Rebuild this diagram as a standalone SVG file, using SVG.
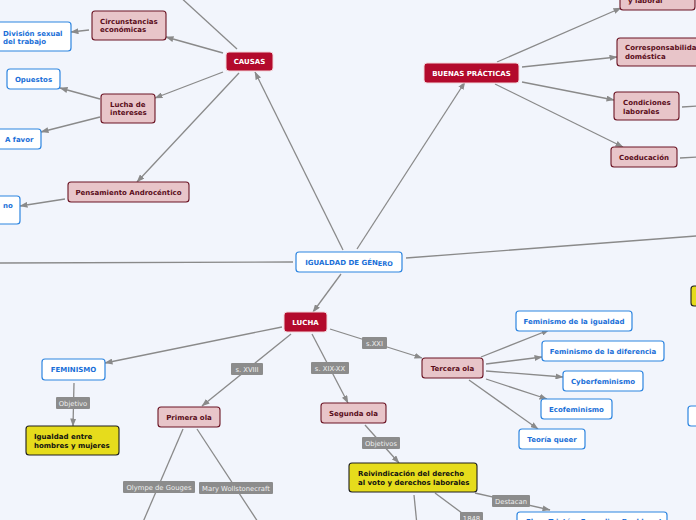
<svg xmlns="http://www.w3.org/2000/svg" width="696" height="520" viewBox="0 0 696 520">
<defs>
<marker id="ar" markerWidth="8" markerHeight="6" refX="7.5" refY="3" orient="auto" markerUnits="userSpaceOnUse">
<path d="M0,0 L8,3 L0,6 Z" fill="#8a8a8a"/>
</marker>
<style>
text{font-family:"DejaVu Sans","Verdana",sans-serif;font-size:7px;font-weight:bold}
.c{stroke:#8a8a8a;stroke-width:1.3;fill:none}
.a{marker-end:url(#ar)}
.red rect{fill:#b30a2c;stroke:#f2d5d9;stroke-width:1}
.red text{fill:#ffffff;text-anchor:middle}
.pink rect{fill:#e8c5c9;stroke:#6b1424;stroke-width:1.1}
.pink text{fill:#5a0d1a}
.blue rect{fill:#ffffff;stroke:#2d85e0;stroke-width:1.2}
.blue text{fill:#1a6fd8}
.yel rect{fill:#e6dc1c;stroke:#1e1e1e;stroke-width:1.1}
.yel text{fill:#111111}
.mid{text-anchor:middle}
.lbl rect{fill:#8c8c8c}
.lbl text{fill:#eeeeee;font-weight:normal;text-anchor:middle;font-size:6.8px}
</style>
</defs>
<rect x="0" y="0" width="696" height="520" fill="#f2f5fc"/>

<g id="connectors">
<line class="c" x1="178" y1="-5" x2="237" y2="49"/>
<line class="c a" x1="343" y1="250" x2="255" y2="72"/>
<line class="c a" x1="223" y1="53" x2="166" y2="37"/>
<line class="c a" x1="223" y1="72" x2="155" y2="98"/>
<line class="c a" x1="239" y1="73" x2="137" y2="182"/>
<line class="c a" x1="89" y1="30" x2="71" y2="32"/>
<line class="c a" x1="100" y1="99" x2="60" y2="88"/>
<line class="c a" x1="100" y1="117" x2="41" y2="132"/>
<line class="c a" x1="65" y1="199" x2="20" y2="206"/>
<line class="c" x1="-5" y1="263" x2="293" y2="262"/>
<line class="c" x1="406" y1="258" x2="700" y2="235.7"/>
<line class="c a" x1="357" y1="249" x2="465" y2="82"/>
<line class="c a" x1="497" y1="62" x2="621" y2="8"/>
<line class="c a" x1="522" y1="67" x2="617" y2="57"/>
<line class="c a" x1="522" y1="82" x2="614" y2="100"/>
<line class="c a" x1="495" y1="84" x2="623" y2="147"/>
<line class="c" x1="682" y1="107" x2="700" y2="106"/>
<line class="c" x1="680" y1="158" x2="700" y2="157"/>
<line class="c a" x1="341" y1="274" x2="313" y2="312"/>
<line class="c a" x1="282" y1="327" x2="105" y2="363"/>
<line class="c a" x1="74" y1="383" x2="73" y2="426"/>
<line class="c a" x1="291" y1="334" x2="202" y2="406"/>
<line class="c" x1="183" y1="429" x2="143" y2="522"/>
<line class="c" x1="197" y1="429" x2="258" y2="522"/>
<line class="c a" x1="312" y1="334" x2="348" y2="403"/>
<line class="c a" x1="365" y1="425" x2="399" y2="463"/>
<line class="c" x1="414" y1="495" x2="417" y2="525"/>
<line class="c" x1="435" y1="493" x2="474" y2="522"/>
<line class="c a" x1="475" y1="493" x2="550" y2="510"/>
<line class="c a" x1="330" y1="329" x2="422" y2="358"/>
<line class="c a" x1="481" y1="357" x2="549" y2="330"/>
<line class="c a" x1="486" y1="364" x2="542" y2="357"/>
<line class="c a" x1="486" y1="371" x2="563" y2="377"/>
<line class="c a" x1="486" y1="379" x2="547" y2="399"/>
<line class="c a" x1="469" y1="380" x2="538" y2="429"/>
<g class="lbl">
<rect x="56" y="397" width="34" height="12" rx="1"/><text x="73" y="405.5">Objetivo</text>
<rect x="231" y="363" width="32" height="12" rx="1"/><text x="247" y="371.5">s. XVIII</text>
<rect x="311" y="362" width="38" height="12" rx="1"/><text x="330" y="370.5">s. XIX-XX</text>
<rect x="362" y="337" width="25" height="12" rx="1"/><text x="374.5" y="345.5">s.XXI</text>
<rect x="362" y="437" width="38" height="12" rx="1"/><text x="381" y="445.5">Objetivos</text>
<rect x="123" y="481" width="72" height="12" rx="1"/><text x="159" y="489.5">Olympe de Gouges</text>
<rect x="199" y="482" width="74" height="12" rx="1"/><text x="236" y="490.5">Mary Wollstonecraft</text>
<rect x="492" y="495" width="38" height="12" rx="1"/><text x="511" y="503.5">Destacan</text>
<rect x="460" y="512" width="23" height="12" rx="1"/><text x="471.5" y="520.5">1848</text>
</g>
</g>

<g id="n-igualdad" class="blue"><rect x="296" y="252" width="106" height="20" rx="3"/><text class="mid" x="349" y="265">IGUALDAD DE GÉN<tspan font-size="6.5px" dy="0.8">ERO</tspan></text></g>

<g id="n-causas" class="red"><rect x="226" y="52" width="47" height="19" rx="3"/><text x="249.5" y="64">CAUSAS</text></g>
<g id="n-circunstancias" class="pink"><rect x="92" y="11" width="74" height="29" rx="3"/><text x="100" y="24">Circunstancias</text><text x="100" y="32">económicas</text></g>
<g id="n-division" class="blue"><rect x="-6" y="22" width="77" height="29" rx="3"/><text x="3" y="35.5">División sexual</text><text x="3" y="43.5">del trabajo</text></g>
<g id="n-lucha-intereses" class="pink"><rect x="101" y="94" width="54" height="29" rx="3"/><text x="110" y="106.5">Lucha de</text><text x="110" y="114.5">intereses</text></g>
<g id="n-opuestos" class="blue"><rect x="7" y="69" width="53" height="20" rx="3"/><text class="mid" x="33.5" y="81.5">Opuestos</text></g>
<g id="n-afavor" class="blue"><rect x="-6" y="129" width="47" height="20" rx="3"/><text x="5" y="141.5">A favor</text></g>
<g id="n-pensamiento" class="pink"><rect x="68" y="182" width="121" height="20" rx="3"/><text class="mid" x="128.5" y="194.5">Pensamiento Androcéntico</text></g>
<g id="n-no" class="blue"><rect x="-50" y="196" width="70" height="28" rx="3"/><text x="3" y="208">no</text></g>

<g id="n-buenas" class="red"><rect x="424" y="63" width="95" height="20" rx="3"/><text x="471.5" y="75.5">BUENAS PRÁCTICAS</text></g>
<g id="n-conciliacion" class="pink"><rect x="620" y="-20" width="75" height="30" rx="3"/><text x="628" y="3">y laboral</text></g>
<g id="n-corresp" class="pink"><rect x="617" y="38" width="90" height="28" rx="3"/><text x="625" y="49.5">Corresponsabilidad</text><text x="625" y="58.5">doméstica</text></g>
<g id="n-condiciones" class="pink"><rect x="614" y="92" width="65" height="28" rx="3"/><text x="623" y="105">Condiciones</text><text x="623" y="113.5">laborales</text></g>
<g id="n-coeducacion" class="pink"><rect x="611" y="147" width="66" height="20" rx="3"/><text class="mid" x="644" y="159.5">Coeducación</text></g>

<g id="n-lucha" class="red"><rect x="284" y="312" width="43" height="20" rx="3"/><text x="305.5" y="324.5">LUCHA</text></g>
<g id="n-feminismo" class="blue"><rect x="42" y="359" width="63" height="21" rx="3"/><text class="mid" x="73.5" y="372">FEMINISMO</text></g>
<g id="n-igualdad-hm" class="yel"><rect x="26" y="426" width="93" height="29" rx="3"/><text x="34" y="439">Igualdad entre</text><text x="34" y="447.5">hombres y mujeres</text></g>
<g id="n-primera" class="pink"><rect x="158" y="407" width="62" height="20" rx="3"/><text class="mid" x="189" y="419.5">Primera ola</text></g>
<g id="n-segunda" class="pink"><rect x="321" y="403" width="65" height="20" rx="3"/><text class="mid" x="353.5" y="415.5">Segunda ola</text></g>
<g id="n-reivindicacion" class="yel"><rect x="349" y="463" width="128" height="29" rx="3"/><text x="358" y="475.5">Reivindicación del derecho</text><text x="358" y="484.5">al voto y derechos laborales</text></g>
<g id="n-tercera" class="pink"><rect x="422" y="358" width="61" height="20" rx="3"/><text class="mid" x="452.5" y="370.5">Tercera ola</text></g>
<g id="n-fem-igualdad" class="blue"><rect x="516" y="311" width="116" height="20" rx="3"/><text class="mid" x="574" y="323.5">Feminismo de la igualdad</text></g>
<g id="n-fem-diferencia" class="blue"><rect x="542" y="341" width="122" height="20" rx="3"/><text class="mid" x="603" y="353.5">Feminismo de la diferencia</text></g>
<g id="n-cyber" class="blue"><rect x="563" y="371" width="80" height="20" rx="3"/><text class="mid" x="603" y="383.5">Cyberfeminismo</text></g>
<g id="n-eco" class="blue"><rect x="541" y="399" width="71" height="20" rx="3"/><text class="mid" x="576.5" y="411.5">Ecofeminismo</text></g>
<g id="n-queer" class="blue"><rect x="519" y="429" width="66" height="20" rx="3"/><text class="mid" x="552" y="441.5">Teoría queer</text></g>
<g id="n-destacadas" class="blue"><rect x="517" y="512" width="150" height="24" rx="3"/><text x="526" y="523.5">Flora Tristán, Emmeline Pankhurst</text></g>
<g id="n-right-yellow" class="yel"><rect x="691" y="286" width="20" height="20" rx="3"/></g>
<g id="n-right-blue" class="blue"><rect x="688" y="406" width="20" height="20" rx="3"/></g>
</svg>
